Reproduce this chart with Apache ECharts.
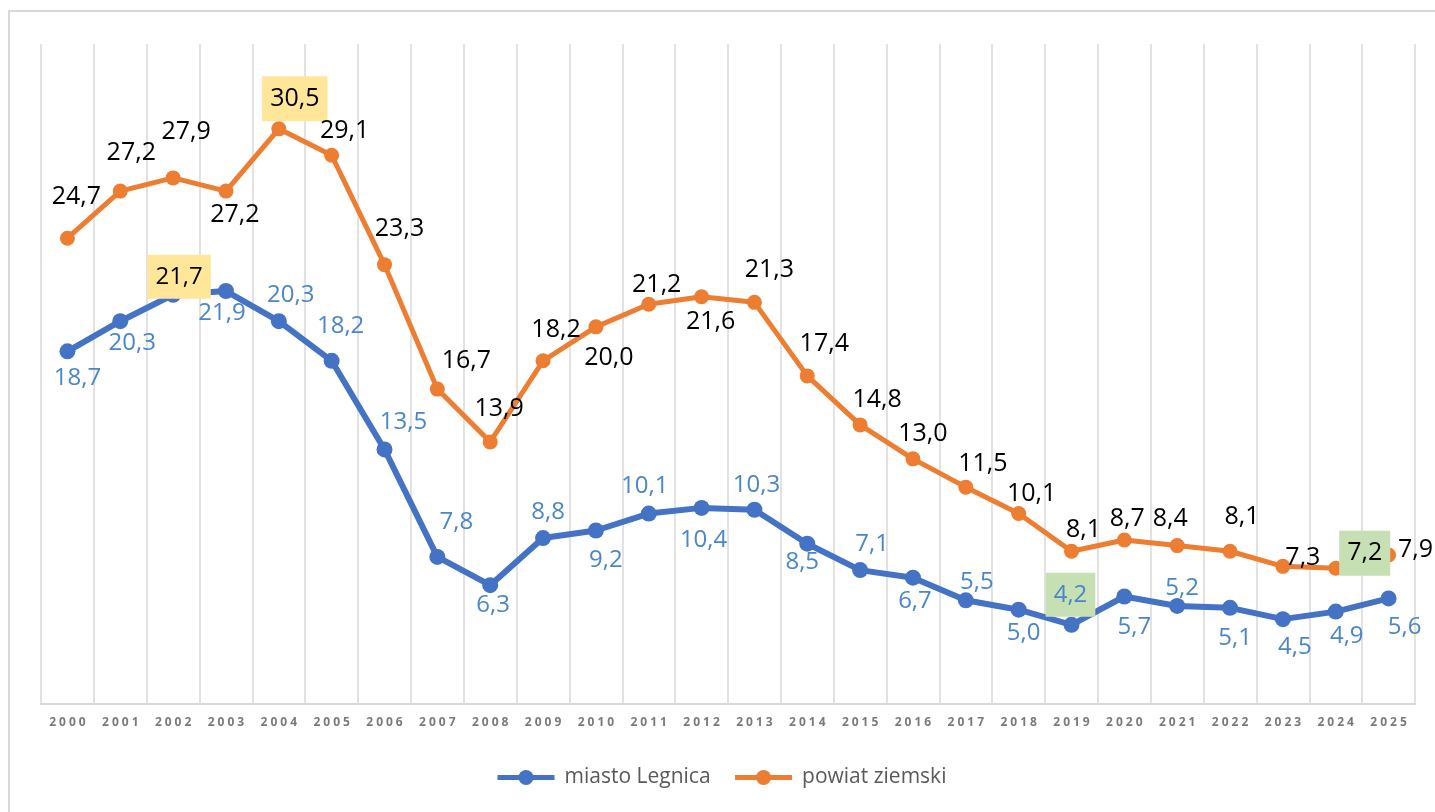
<!DOCTYPE html>
<html>
<head>
<meta charset="utf-8">
<style>
  html, body { margin: 0; padding: 0; background: #ffffff; }
  #chart { width: 1435px; height: 812px; }
</style>
<script src="https://cdn.jsdelivr.net/npm/echarts@6/dist/echarts.min.js"></script>
</head>
<body>
<div id="chart"></div>
<script>
// ---- data ----
const years = ['2000','2001','2002','2003','2004','2005','2006','2007','2008','2009','2010','2011','2012',
               '2013','2014','2015','2016','2017','2018','2019','2020','2021','2022','2023','2024','2025'];
const legnica = [18.7, 20.3, 21.7, 21.9, 20.3, 18.2, 13.5, 7.8, 6.3, 8.8, 9.2, 10.1, 10.4,
                 10.3, 8.5, 7.1, 6.7, 5.5, 5.0, 4.2, 5.7, 5.2, 5.1, 4.5, 4.9, 5.6];
const ziemski = [24.7, 27.2, 27.9, 27.2, 30.5, 29.1, 23.3, 16.7, 13.9, 18.2, 20.0, 21.2, 21.6,
                 21.3, 17.4, 14.8, 13.0, 11.5, 10.1, 8.1, 8.7, 8.4, 8.1, 7.3, 7.2, 7.9];
const seriesNames = ['miasto Legnica', 'powiat ziemski'];

// ---- label placement (offset of each data label from its point) ----
const legnicaLabelOffset = [[10,27],[12,22],[6,-18],[-4,22],[12,-26],[9,-35],[19,-27],[19,-35],[3,20],
  [5,-26],[10,30],[-4,-27],[2,32],[2,-25],[-5,18],[12,-26],[2,23],[11,-18],[5,23],[-1,-30],
  [10,31],[5,-18],[5,30],[12,28],[11,25],[16,29]];
const ziemskiLabelOffset = [[9,-41],[11,-38],[13,-46],[9,24],[16,-30],[13,-24],[15,-36],[29,-28],[9,-33],
  [13,-31],[13,31],[8,-19],[9,25],[15,-32],[17,-32],[17,-25],[10,-25],[17,-23],[13,-20],[12,-21],
  [3,-21],[-7,-27],[12,-34],[20,-8],[29,-15],[27,-5]];
// highlighted labels: index -> background
const legnicaHighlight = { 2: { bg: '#FFE699', color: '#000000' }, 19: { bg: '#C6E0B4', color: '#4a86c8' } };
const ziemskiHighlight = { 4: { bg: '#FFE699', color: '#000000' }, 24: { bg: '#C6E0B4', color: '#000000' } };

const fmt = v => v.toFixed(1).replace('.', ',');

function buildData(values, offsets, highlight) {
  return values.map((v, i) => {
    const label = { offset: offsets[i] };
    if (highlight[i]) {
      label.backgroundColor = highlight[i].bg;
      label.color = highlight[i].color;
      label.padding = [10, 8, 10, 8];
    }
    return { value: v, label: label };
  });
}

const chart = echarts.init(document.getElementById('chart'), null, { renderer: 'canvas' });

const option = {
  backgroundColor: '#ffffff',
  animation: false,
  graphic: [{
    type: 'rect',
    silent: true,
    z: -10,
    shape: { x: 9, y: 11, width: 1600, height: 900 },
    style: { fill: 'none', stroke: '#d9d9d9', lineWidth: 2 }
  }],
  grid: { left: 41, right: 20, top: 44, bottom: 108, containLabel: false },
  legend: {
    data: seriesNames,
    left: 490,
    top: 762,
    itemWidth: 57,
    itemHeight: 19,
    itemGap: 22,
    lineStyle: { width: 5 },
    textStyle: { fontFamily: 'Open Sans', fontSize: 21, color: '#595959', padding: [0, 0, 0, 5] }
  },
  xAxis: {
    type: 'category',
    data: years,
    boundaryGap: true,
    axisLine: { show: true, lineStyle: { color: '#d9d9d9', width: 2 } },
    axisTick: { show: false },
    splitLine: { show: true, lineStyle: { color: '#d9d9d9', width: 1.5 } },
    axisLabel: {
      margin: 13,
      fontFamily: 'Open Sans',
      fontSize: 12,
      fontWeight: 'bold',
      color: '#7a7a7a',
      formatter: v => v.split('').join('\u2005')
    }
  },
  yAxis: {
    type: 'value',
    min: 0,
    max: 35,
    show: false,
    splitLine: { show: false }
  },
  series: [
    {
      name: seriesNames[0],
      type: 'line',
      data: buildData(legnica, legnicaLabelOffset, legnicaHighlight),
      symbol: 'circle',
      symbolSize: 16,
      lineStyle: { color: '#4472C4', width: 6 },
      itemStyle: { color: '#4472C4' },
      label: {
        show: true,
        position: 'inside',
        formatter: p => fmt(p.value),
        fontFamily: 'Open Sans',
        fontSize: 24,
        color: '#4a86c8'
      },
      z: 2
    },
    {
      name: seriesNames[1],
      type: 'line',
      data: buildData(ziemski, ziemskiLabelOffset, ziemskiHighlight),
      symbol: 'circle',
      symbolSize: 15,
      lineStyle: { color: '#ED7D31', width: 5 },
      itemStyle: { color: '#ED7D31' },
      label: {
        show: true,
        position: 'inside',
        formatter: p => fmt(p.value),
        fontFamily: 'Open Sans',
        fontSize: 25,
        color: '#000000'
      },
      z: 3
    }
  ]
};
chart.setOption(option);
</script>
</body>
</html>
